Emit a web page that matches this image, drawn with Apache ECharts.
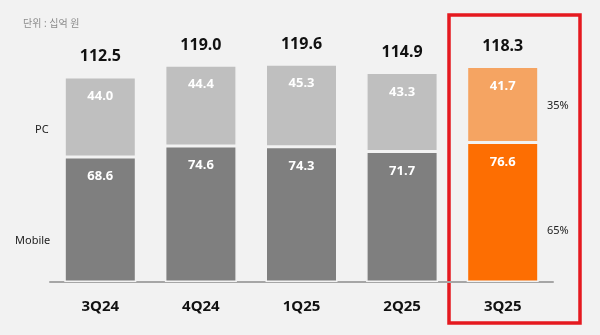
<!DOCTYPE html>
<html><head><meta charset="utf-8">
<script src="https://cdn.jsdelivr.net/npm/echarts@6/dist/echarts.min.js"></script>
<style>html,body{margin:0;padding:0;background:#f2f2f2}#c{width:600px;height:335px}</style>
</head><body><div id="c"></div>
<script>
const categories = ['3Q24','4Q24','1Q25','2Q25','3Q25'];
const mobile = [68.6, 74.6, 74.3, 71.7, 76.6];
const pc = [44.0, 44.4, 45.3, 43.3, 41.7];
const totals = [112.5, 119.0, 119.6, 114.9, 118.3];
const shareLabels = ['35%', '65%'];
const unitText = '단위 : 십억 원';

const FONT = '"Noto Sans", "Noto Sans CJK KR", sans-serif';
const greyPC = '#bfbfbf', greyMob = '#7f7f7f', orPC = '#f5a462', orMob = '#fd6e02';
const last = categories.length - 1;

const chart = echarts.init(document.getElementById('c'));
chart.setOption({
  backgroundColor: '#f2f2f2',
  animation: false,
  grid: {left: 50, right: 47, top: 27, bottom: 53},
  xAxis: {
    type: 'category', data: categories,
    axisLine: {lineStyle: {color: '#a6a6a6', width: 2}},
    axisTick: {show: false},
    axisLabel: {color: '#111', fontSize: 15, fontWeight: 'bold', fontFamily: FONT, margin: 17}
  },
  yAxis: {type: 'value', min: 0, max: 140, show: false},
  series: [
    {
      name: 'Mobile', type: 'bar', stack: 's', barWidth: 72,
      data: mobile.map((v, i) => ({value: v, itemStyle: {color: i === last ? orMob : greyMob}})),
      itemStyle: {borderColor: '#f2f2f2', borderWidth: 1.5},
      label: {show: true, position: 'insideTop', distance: 13, color: '#fff', fontSize: 13,
        fontWeight: 'bold', fontFamily: FONT, formatter: p => p.value.toFixed(1)}
    },
    {
      name: 'PC', type: 'bar', stack: 's', barWidth: 72,
      data: pc.map((v, i) => ({value: v, itemStyle: {color: i === last ? orPC : greyPC}})),
      itemStyle: {borderColor: '#f2f2f2', borderWidth: 1.5},
      label: {show: true, position: 'insideTop', distance: 13, color: '#fff', fontSize: 13,
        fontWeight: 'bold', fontFamily: FONT, formatter: p => p.value.toFixed(1)}
    },
    {
      name: 'Total', type: 'bar', stack: 's', barWidth: 72,
      data: totals.map(() => 0),
      itemStyle: {color: 'transparent'},
      label: {show: true, position: 'top', distance: 12, color: '#111', fontSize: 16,
        fontWeight: 'bold', fontFamily: FONT, formatter: p => totals[p.dataIndex].toFixed(1)}
    }
  ],
  graphic: [
    {type: 'text', left: 23, top: 19, style: {text: unitText, fill: '#8c8c8c', fontSize: 10, fontFamily: FONT}},
    {type: 'text', left: 35, top: 124, style: {text: 'PC', fill: '#222', fontSize: 11, fontFamily: FONT}},
    {type: 'text', left: 15, top: 235, style: {text: 'Mobile', fill: '#222', fontSize: 11, fontFamily: FONT}},
    {type: 'text', left: 547, top: 100, style: {text: shareLabels[0], fill: '#222', fontSize: 11, fontFamily: FONT}},
    {type: 'text', left: 547, top: 225, style: {text: shareLabels[1], fill: '#222', fontSize: 11, fontFamily: FONT}},
    {type: 'rect', shape: {x: 449, y: 15, width: 131, height: 308},
      style: {fill: 'none', stroke: '#e5191f', lineWidth: 3.5}}
  ]
});
</script></body></html>
